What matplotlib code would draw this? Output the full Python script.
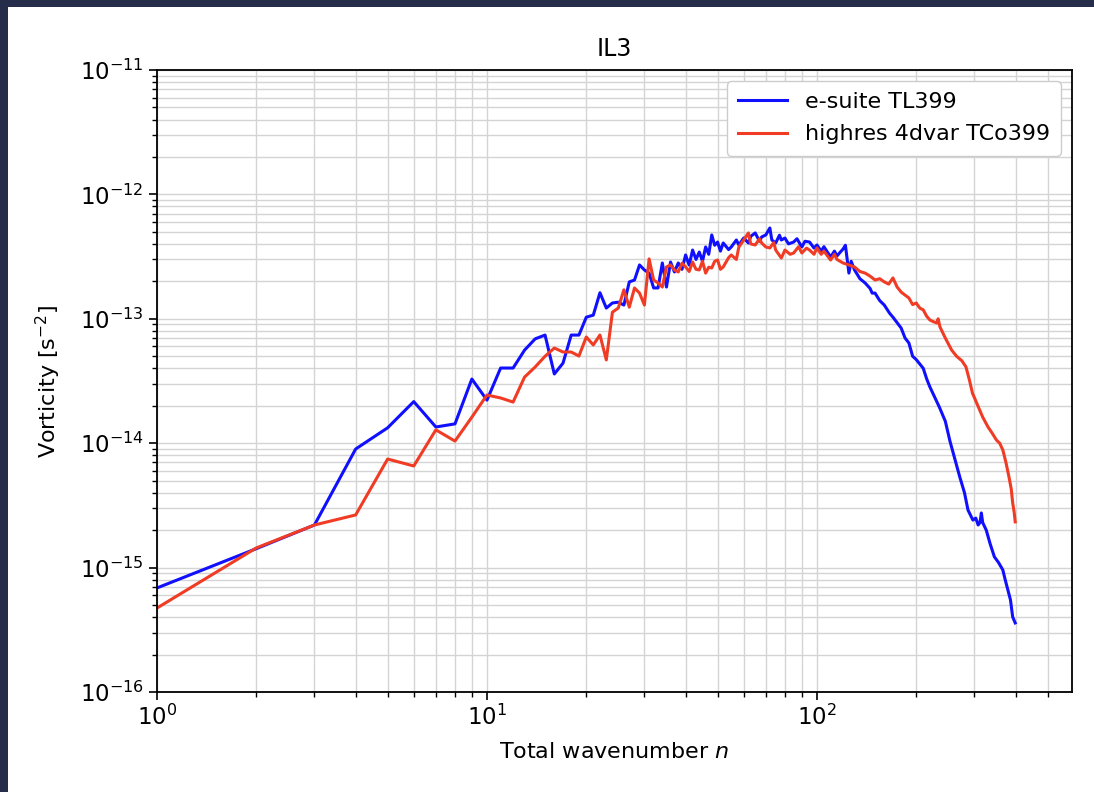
import numpy as np
import matplotlib
matplotlib.use("Agg")
import matplotlib.pyplot as plt
from matplotlib.patches import Rectangle

# ---------------- data ----------------
n_blue = [1, 2, 3, 4, 5, 6, 7, 8, 9, 10, 11, 12, 13, 14, 15, 16, 17, 18, 19, 20,
          21, 22, 23, 24, 25, 26, 27, 28, 29, 30, 31, 32, 33, 34, 35, 36, 37, 38, 39, 40,
          41, 42, 43, 44, 45, 46, 47, 48, 49, 50, 51, 52, 54, 55, 57, 58, 60, 62, 63, 65,
          67, 68, 70, 72, 73, 75, 77, 78, 80, 82, 85, 87, 90, 92, 95, 98, 100, 103, 105, 110,
          113, 115, 120, 122, 125, 127, 130, 135, 140, 145, 147, 150, 155, 160, 166, 170, 175, 180, 185, 190,
          195, 200, 210, 215, 220, 230, 235, 245, 253, 260, 271, 280, 287, 297, 303, 308, 312, 315, 318, 326,
          335, 345, 355, 366, 372, 379, 386, 392, 399]
blue_vals = [6.86e-16, 1.42e-15, 2.20e-15, 8.98e-15, 1.33e-14, 2.16e-14, 1.35e-14, 1.43e-14, 3.28e-14, 2.22e-14,
             4.02e-14, 4.02e-14, 5.6e-14, 6.9e-14, 7.4e-14, 3.6e-14, 4.4e-14, 7.4e-14, 7.4e-14, 1.03e-13,
             1.07e-13, 1.62e-13, 1.22e-13, 1.34e-13, 1.36e-13, 1.29e-13, 1.98e-13, 2.05e-13, 2.71e-13, 2.47e-13,
             2.33e-13, 1.77e-13, 1.77e-13, 2.81e-13, 1.80e-13, 2.86e-13, 2.38e-13, 2.81e-13, 2.5e-13, 3.26e-13,
             2.7e-13, 3.57e-13, 3.0e-13, 3.44e-13, 2.9e-13, 3.78e-13, 3.3e-13, 4.72e-13, 3.9e-13, 4.14e-13,
             3.5e-13, 4.07e-13, 3.6e-13, 3.78e-13, 4.3e-13, 3.92e-13, 4.46e-13, 4.07e-13, 4.6e-13, 4.90e-13,
             4.2e-13, 4.55e-13, 4.72e-13, 5.37e-13, 4.3e-13, 4.07e-13, 4.7e-13, 4.30e-13, 4.46e-13, 4.0e-13,
             4.14e-13, 4.4e-13, 3.78e-13, 4.2e-13, 4.14e-13, 3.7e-13, 3.92e-13, 3.5e-13, 3.8e-13, 3.14e-13,
             3.5e-13, 3.2e-13, 3.64e-13, 3.9e-13, 2.33e-13, 2.9e-13, 2.47e-13, 2.1e-13, 1.94e-13, 1.75e-13,
             1.61e-13, 1.61e-13, 1.4e-13, 1.29e-13, 1.11e-13, 1.03e-13, 9.3e-14, 8.43e-14, 7.0e-14, 6.39e-14,
             5.0e-14, 4.7e-14, 4.0e-14, 3.3e-14, 2.83e-14, 2.2e-14, 1.95e-14, 1.5e-14, 1.04e-14, 8.0e-15,
             5.35e-15, 4.0e-15, 2.90e-15, 2.41e-15, 2.5e-15, 2.20e-15, 2.3e-15, 2.75e-15, 2.3e-15, 2.00e-15,
             1.55e-15, 1.22e-15, 1.1e-15, 9.57e-16, 8.0e-16, 6.60e-16, 5.5e-16, 4.01e-16, 3.59e-16]

n_red = [1, 2, 3, 4, 5, 6, 7, 8, 9, 10, 11, 12, 13, 14, 15, 16, 17, 18, 19, 20,
         21, 22, 23, 24, 25, 26, 27, 28, 29, 30, 31, 32, 33, 34, 35, 36, 37, 38, 39, 40,
         41, 42, 43, 44, 45, 46, 47, 48, 49, 50, 51, 52, 54, 55, 57, 58, 60, 62, 63, 65,
         67, 68, 70, 72, 74, 75, 78, 80, 83, 85, 88, 90, 93, 95, 98, 100, 103, 105, 110, 113,
         115, 120, 125, 130, 135, 140, 145, 150, 155, 160, 165, 170, 175, 180, 185, 190, 195, 200, 205, 210,
         215, 220, 225, 231, 233, 236, 245, 256, 265, 275, 283, 290, 296, 305, 318, 330, 340, 350, 358, 366,
         374, 382, 388, 392, 396, 399]
red_vals = [4.73e-16, 1.44e-15, 2.20e-15, 2.65e-15, 7.46e-15, 6.56e-15, 1.28e-14, 1.04e-14, 1.62e-14, 2.44e-14,
            2.31e-14, 2.14e-14, 3.40e-14, 4.10e-14, 5.0e-14, 5.82e-14, 5.41e-14, 5.41e-14, 5.02e-14, 7.14e-14,
            6.16e-14, 7.41e-14, 4.67e-14, 1.13e-13, 1.22e-13, 1.71e-13, 1.24e-13, 1.77e-13, 1.61e-13, 1.29e-13,
            3.03e-13, 2.05e-13, 1.94e-13, 1.80e-13, 2.61e-13, 2.71e-13, 2.47e-13, 2.38e-13, 2.8e-13, 2.61e-13,
            2.4e-13, 2.86e-13, 2.5e-13, 2.47e-13, 2.9e-13, 2.33e-13, 2.6e-13, 2.56e-13, 2.9e-13, 2.97e-13,
            2.5e-13, 2.61e-13, 3.1e-13, 3.26e-13, 3.0e-13, 3.78e-13, 4.30e-13, 4.90e-13, 4.0e-13, 3.92e-13,
            4.4e-13, 4.07e-13, 3.78e-13, 3.71e-13, 4.1e-13, 3.57e-13, 3.08e-13, 3.57e-13, 3.3e-13, 3.38e-13,
            3.8e-13, 3.38e-13, 3.7e-13, 3.57e-13, 3.3e-13, 3.71e-13, 3.3e-13, 3.5e-13, 2.97e-13, 3.3e-13,
            3.0e-13, 2.81e-13, 2.71e-13, 2.61e-13, 2.4e-13, 2.33e-13, 2.2e-13, 2.05e-13, 2.1e-13, 1.98e-13,
            1.9e-13, 2.13e-13, 1.8e-13, 1.64e-13, 1.55e-13, 1.47e-13, 1.30e-13, 1.34e-13, 1.22e-13, 1.18e-13,
            1.05e-13, 9.78e-14, 9.5e-14, 9.25e-14, 1.0e-13, 8.6e-14, 7.0e-14, 5.61e-14, 5.0e-14, 4.6e-14,
            4.10e-14, 3.2e-14, 2.53e-14, 2.1e-14, 1.62e-14, 1.35e-14, 1.2e-14, 1.06e-14, 1.0e-14, 8.82e-15,
            7.0e-15, 5.35e-15, 4.3e-15, 3.31e-15, 2.8e-15, 2.33e-15]

label_blue = "e-suite TL399"
label_red = "highres 4dvar TCo399"
title = "IL3"
xlabel = "Total wavenumber $n$"
ylabel = "Vorticity [s$^{-2}$]"

# ---------------- figure ----------------
plt.rcParams['font.family'] = ['DejaVu Sans']
plt.rcParams['font.size'] = 16
W, H = 1094, 792
fig = plt.figure(figsize=(W / 100, H / 100), dpi=100)
fig.patch.set_facecolor('white')

# dark frame of the screenshot (left and top edges)
frame_col = '#252d4b'
fig.add_artist(Rectangle((0, 0), 8 / W, 1, transform=fig.transFigure,
                         facecolor=frame_col, edgecolor='none', zorder=0))
fig.add_artist(Rectangle((0, 1 - 7 / H), 1, 7 / H, transform=fig.transFigure,
                         facecolor=frame_col, edgecolor='none', zorder=0))

ax = fig.add_axes([157 / W, 1 - 692 / H, (1072 - 157) / W, (692 - 70) / H])
ax.plot(n_blue, blue_vals, color='#1010ff', lw=2.2, label=label_blue)
ax.plot(n_red, red_vals, color='#f03c24', lw=2.2, label=label_red)
ax.set_xscale('log')
ax.set_yscale('log')
ax.set_xlim(1, 593)
ax.set_ylim(1e-16, 1e-11)
ax.grid(True, which='both', color='#d4d4d4', lw=1.0)
ax.set_axisbelow(True)
ax.set_title(title, fontsize=17, pad=10)
ax.set_xlabel(xlabel, fontsize=16, labelpad=8)
ax.set_ylabel(ylabel, fontsize=16, labelpad=12)
ax.tick_params(which='major', length=6, width=1.2, labelsize=16.5)
ax.tick_params(which='minor', length=3.5, width=1.0)
for s in ax.spines.values():
    s.set_linewidth(1.3)
leg = ax.legend(loc='upper right', fontsize=16, handlelength=2.2, framealpha=1,
                borderpad=0.5, labelspacing=0.55, borderaxespad=0.5)
leg.get_frame().set_edgecolor('#cccccc')

fig.savefig('out.png', dpi=100)
